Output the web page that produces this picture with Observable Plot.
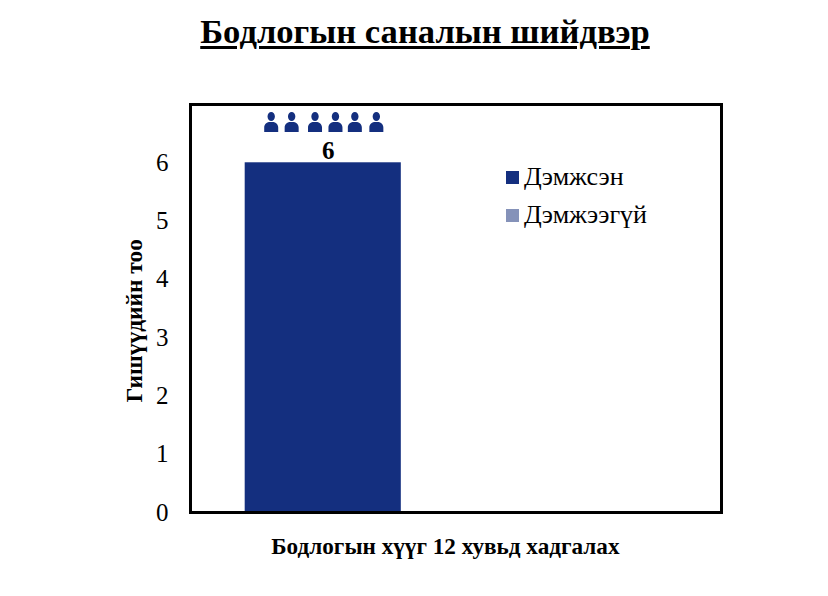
<!DOCTYPE html>
<html><head><meta charset="utf-8">
<script src="https://cdn.jsdelivr.net/npm/d3@7"></script>
<script src="https://cdn.jsdelivr.net/npm/@observablehq/plot@0.6"></script>
<style>
html,body{margin:0;padding:0;background:#fff;}
body{width:828px;height:596px;position:relative;overflow:hidden;font-family:"Liberation Serif",serif;color:#000;}
#title{height:64px;line-height:63px;text-align:center;font-size:34.6px;font-weight:bold;text-decoration:underline;text-decoration-thickness:2.5px;text-underline-offset:3px;padding-left:22px;box-sizing:border-box;}
#legend{position:absolute;left:506px;top:158px;font-size:26px;line-height:38px;}
#legend div{display:flex;align-items:center;height:38px;}
#legend i{display:inline-block;width:13px;height:13px;margin-right:5px;}
svg{display:block;}
</style></head><body>
<div id="title"></div>
<div id="legend"></div>
<div id="chart"></div>
<script>
const titleText = "Бодлогын саналын шийдвэр";
const xLabel = "Бодлогын хүүг 12 хувьд хадгалах";
const yLabel = "Гишүүдийн тоо";
const series = ["Дэмжсэн", "Дэмжээгүй"];
const values = [6, 0];
const colors = ["#142F7F", "#8592B9"];
const yTicks = [0, 1, 2, 3, 4, 5, 6];
// one pictogram per supporting member
const memberX = [0.304, 0.381, 0.469, 0.546, 0.619, 0.700];
const memberY = [6.7, 6.7, 6.7, 6.7, 6.7, 6.7];

document.getElementById("title").textContent = titleText;
document.getElementById("legend").innerHTML = series.map((s, i) =>
  `<div><i style="background:${colors[i]}"></i><span>${s}</span></div>`).join("");

const table = series.map((s, i) => ({s, i, v: values[i], c: colors[i]}));
const members = memberX.map((x, i) => ({x, y: memberY[i]}));

const person = {
  draw(ctx, size) {
    const r = Math.sqrt(size / Math.PI);
    const u = r / 10;
    // head
    ctx.moveTo(3.7 * u, -5.5 * u);
    ctx.bezierCurveTo(3.7 * u, -8 * u, 2 * u, -10 * u, 0, -10 * u);
    ctx.bezierCurveTo(-2 * u, -10 * u, -3.7 * u, -8 * u, -3.7 * u, -5.5 * u);
    ctx.bezierCurveTo(-3.7 * u, -3 * u, -2 * u, -1 * u, 0, -1 * u);
    ctx.bezierCurveTo(2 * u, -1 * u, 3.7 * u, -3 * u, 3.7 * u, -5.5 * u);
    ctx.closePath();
    // body
    ctx.moveTo(-7 * u, 10 * u);
    ctx.lineTo(-7 * u, 5.5 * u);
    ctx.bezierCurveTo(-7 * u, 2 * u, -4 * u, 0.2 * u, -2.4 * u, 0);
    ctx.lineTo(2.4 * u, 0);
    ctx.bezierCurveTo(4 * u, 0.2 * u, 7 * u, 2 * u, 7 * u, 5.5 * u);
    ctx.lineTo(7 * u, 10 * u);
    ctx.closePath();
  }
};

const chart = Plot.plot({
  width: 828,
  height: 532,
  marginLeft: 190,
  marginRight: 107,
  marginTop: 40,
  marginBottom: 84,
  style: {background: "#fff", fontFamily: "Liberation Serif, serif", color: "#000", overflow: "visible"},
  x: {domain: [0, 2], axis: null},
  y: {domain: [0, 7], axis: null},
  marks: [
    Plot.rectY(table, {
      x1: d => d.i + 0.206, x2: d => d.i + 0.794,
      y1: 0, y2: "v", fill: "c"
    }),
    Plot.axisY({
      ticks: yTicks, tickSize: 0, tickPadding: 22, label: null,
      fontSize: 25, tickFormat: d3.format("d"), fill: "#000"
    }),
    Plot.frame({stroke: "#000", strokeWidth: 3}),
    Plot.dot(members, {x: "x", y: "y", r: 10, symbol: person, fill: colors[0], stroke: "none"}),
    Plot.text(table.filter(d => d.v > 0), {
      x: d => d.i + 0.5, y: "v", text: d => String(d.v),
      dx: 5, dy: -12, fontSize: 25, fontWeight: "bold", fill: "#000"
    }),
    Plot.text([xLabel], {
      x: () => 0.96, frameAnchor: "bottom", text: d => d, dy: 34,
      lineAnchor: "middle", fontSize: 23.2, fontWeight: "bold", fill: "#000"
    }),
    Plot.text([yLabel], {
      y: () => 3.29, frameAnchor: "left", textAnchor: "middle", text: d => d, dx: -56,
      rotate: -90, fontSize: 23.4, fontWeight: "bold", fill: "#000"
    })
  ]
});
document.getElementById("chart").appendChild(chart);
</script>
</body></html>
